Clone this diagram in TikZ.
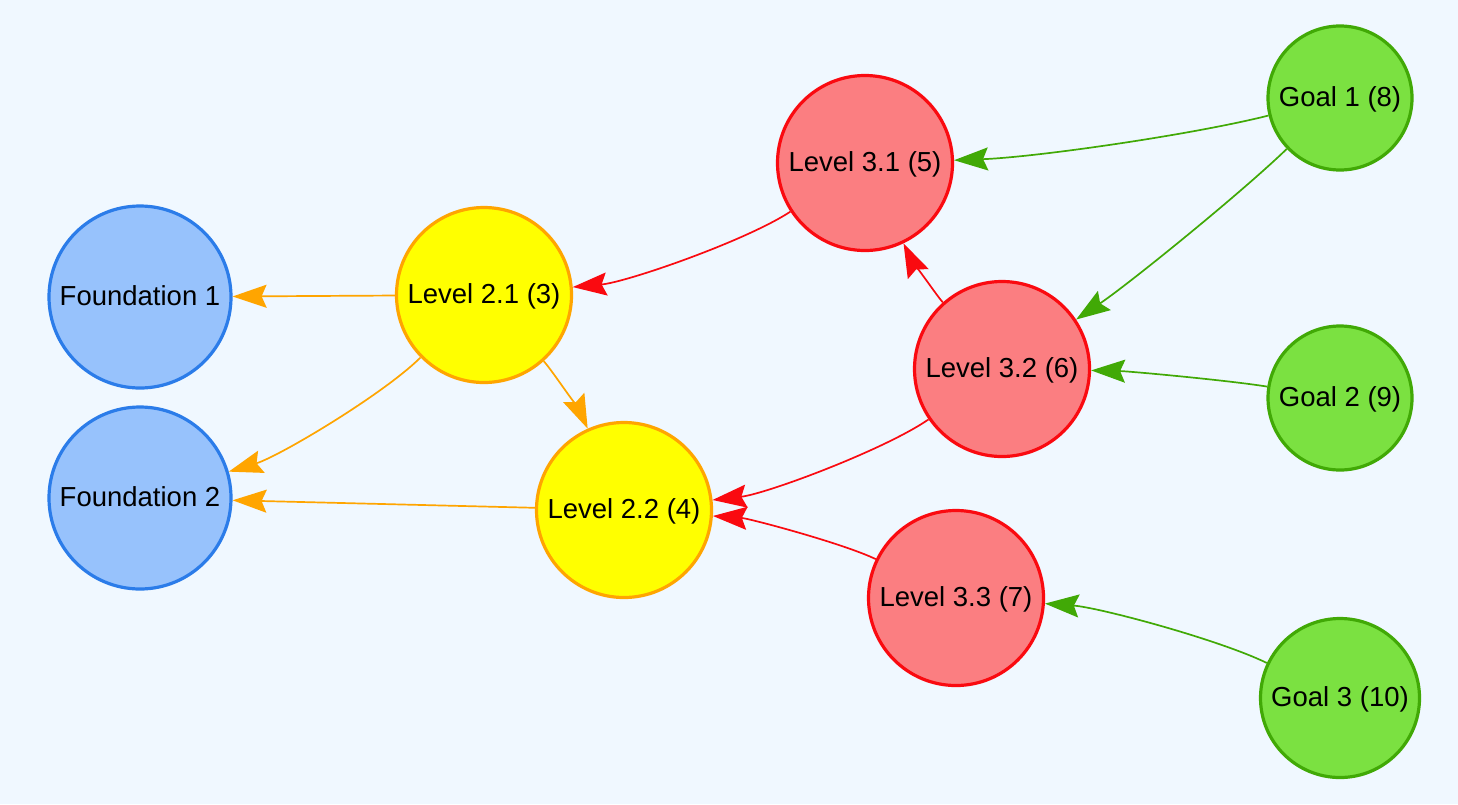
\documentclass[tikz,border=0pt]{standalone}
\usepackage{fontspec}
\setmainfont{Liberation Sans}
\usetikzlibrary{arrows.meta}

\definecolor{bgcol}{HTML}{F0F8FF}
\definecolor{bluefill}{HTML}{97C2FC}
\definecolor{blueline}{HTML}{2B7CE9}
\definecolor{yelfill}{HTML}{FFFF00}
\definecolor{orline}{HTML}{FFA500}
\definecolor{redfill}{HTML}{FB7E81}
\definecolor{redline}{HTML}{FA0A10}
\definecolor{grnfill}{HTML}{7BE141}
\definecolor{grnline}{HTML}{41A906}

\begin{document}
\begin{tikzpicture}[x=1pt,y=1pt,
  base/.style={circle, line width=3.2pt, inner sep=0pt,
    font=\fontsize{27.5}{32}\selectfont, text height=20pt, text depth=2.5pt},
  found/.style={base, draw=blueline, fill=bluefill, minimum size=182pt},
  lvltwo/.style={base, draw=orline, fill=yelfill, minimum size=175pt},
  lvlthree/.style={base, draw=redline, fill=redfill, minimum size=175pt},
  goal/.style={base, draw=grnline, fill=grnfill, minimum size=144pt},
  link/.style={line width=1.7pt, -{Stealth[length=34pt,width=23pt,inset=5pt]}},
  orlink/.style={link, draw=orline},
  rdlink/.style={link, draw=redline},
  grlink/.style={link, draw=grnline}]

% canvas
\fill[bgcol] (0,0) rectangle (1458,-804);
\useasboundingbox (0,0) rectangle (1458,-804);

% foundations
\node[found] (f1) at (140,-297) {Foundation 1};
\node[found] (f2) at (140,-498) {Foundation 2};

% second level
\node[lvltwo] (l21) at (484,-295) {Level 2.1 (3)};
\node[lvltwo] (l22) at (624,-510) {Level 2.2 (4)};

% third level
\node[lvlthree] (l31) at (865,-163) {Level 3.1 (5)};
\node[lvlthree] (l32) at (1002,-369) {Level 3.2 (6)};
\node[lvlthree] (l33) at (956,-598) {Level 3.3 (7)};

% goals
\node[goal] (g1) at (1340,-98) {Goal 1 (8)};
\node[goal] (g2) at (1340,-398) {Goal 2 (9)};
\node[goal, minimum size=159pt] (g3) at (1340,-698) {Goal 3 (10)};

% dependencies
\draw[orlink] (l21) -- (f1);
\draw[orlink] (l21) to[bend left=14, looseness=0.6] (f2);
\draw[orlink] (l21) to[bend left=9, looseness=0.45] (l22);
\draw[orlink] (l22) -- (f2);

\draw[rdlink] (l31) to[bend left=14, looseness=0.6] (l21);
\draw[rdlink] (l32) to[bend left=8, looseness=0.4] (l31);
\draw[rdlink] (l32) to[bend left=14, looseness=0.6] (l22);
\draw[rdlink] (l33) to[bend right=11, looseness=0.55] (l22);

\draw[grlink] (g1) to[bend left=6, looseness=0.65] (l31);
\draw[grlink] (g1) to[bend left=5, looseness=0.6] (l32);
\draw[grlink] (g2) to[bend right=4, looseness=0.55] (l32);
\draw[grlink] (g3) to[bend right=11, looseness=0.6] (l33);
\end{tikzpicture}
\end{document}
